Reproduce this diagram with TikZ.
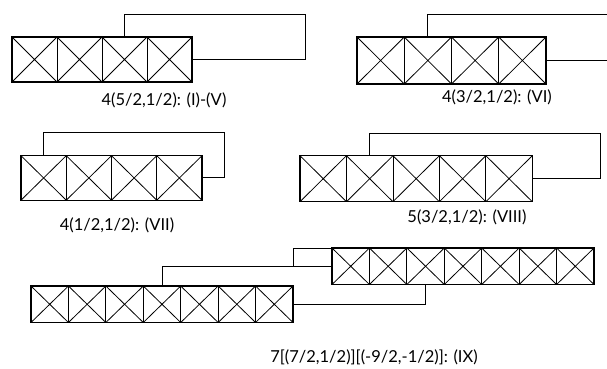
\documentclass[tikz,border=0pt]{standalone}
\usepackage{fontspec}
\setmainfont{Lato}
\usetikzlibrary{calc}
\tikzset{
  boxrow/.style={draw, line width=1.1pt, inner sep=0pt, outer sep=0pt},
  cellx/.style={line width=0.8pt},
  conn/.style={line width=0.95pt},
  lbl/.style={font=\fontsize{16.5}{18}\selectfont, inner sep=0pt}
}
% name, left x, top y, width, height, number of cells
\newcommand\crossrow[6]{%
  \node[boxrow, minimum width=#4pt, minimum height=#5pt, anchor=north west] (#1) at (#2pt,-#3pt) {};
  \foreach \i in {1,...,#6}{%
    \pgfmathsetmacro\xa{#2+(\i-1)*#4/#6}%
    \pgfmathsetmacro\xb{#2+\i*#4/#6}%
    \pgfmathsetmacro\yb{#3+#5}%
    \draw[cellx] (\xa pt,-#3pt) -- (\xb pt,-\yb pt) (\xa pt,-\yb pt) -- (\xb pt,-#3pt);
    \draw[cellx] (\xb pt,-#3pt) -- (\xb pt,-\yb pt);
  }%
  \draw[boxrow] (#1.north west) rectangle (#1.south east);
}
\begin{document}
\begin{tikzpicture}[x=1pt,y=1pt]
\useasboundingbox (0,0) rectangle (607,-368);
% Diagram 1
\crossrow{A}{12}{37}{180}{45}{4}
\draw[conn] ($(A.north west)!0.625!(A.north east)$) |- (305,-14) |- (A.east);
\node[lbl] (la) at (164,-100) {4(5/2,1/2): (I)-(V)};
% Diagram 2
\crossrow{B}{357}{37}{189}{47}{4}
\coordinate (bt) at (607,-14);
\coordinate (br) at (607,-60.5);
\draw[conn] ($(B.north west)!0.375!(B.north east)$) |- (bt);
\draw[conn] (B.east) -- (br);
\node[lbl] (lb) at (497,-97) {4(3/2,1/2): (VI)};
% Diagram 3
\crossrow{C}{21}{155.7}{181}{44.5}{4}
\draw[conn] ($(C.north west)!0.125!(C.north east)$) |- (224,-132.7) |- (C.east);
\node[lbl] (lc) at (117,-225) {4(1/2,1/2): (VII)};
% Diagram 4
\crossrow{D}{300}{155.7}{232.3}{46}{5}
\draw[conn] ($(D.north west)!0.3!(D.north east)$) |- (600,-133.3) |- (D.east);
\node[lbl] (ld) at (467,-217) {5(3/2,1/2): (VIII)};
% Diagram 5
\crossrow{E}{332}{248}{262}{36.5}{7}
\crossrow{F}{31}{286}{262}{36.5}{7}
\draw[conn] ($(F.north west)!0.5!(F.north east)$) |- (E.west |- 0,-266);
\draw[conn] (F.north east |- 0,-266) -- (F.north east |- E.north) -- (E.north west);
\draw[conn] ($(E.south west)!0.357!(E.south east)$) |- (F.east);
\node[lbl] (le) at (374,-357) {7[(7/2,1/2)][(-9/2,-1/2)]: (IX)};
\end{tikzpicture}
\end{document}
